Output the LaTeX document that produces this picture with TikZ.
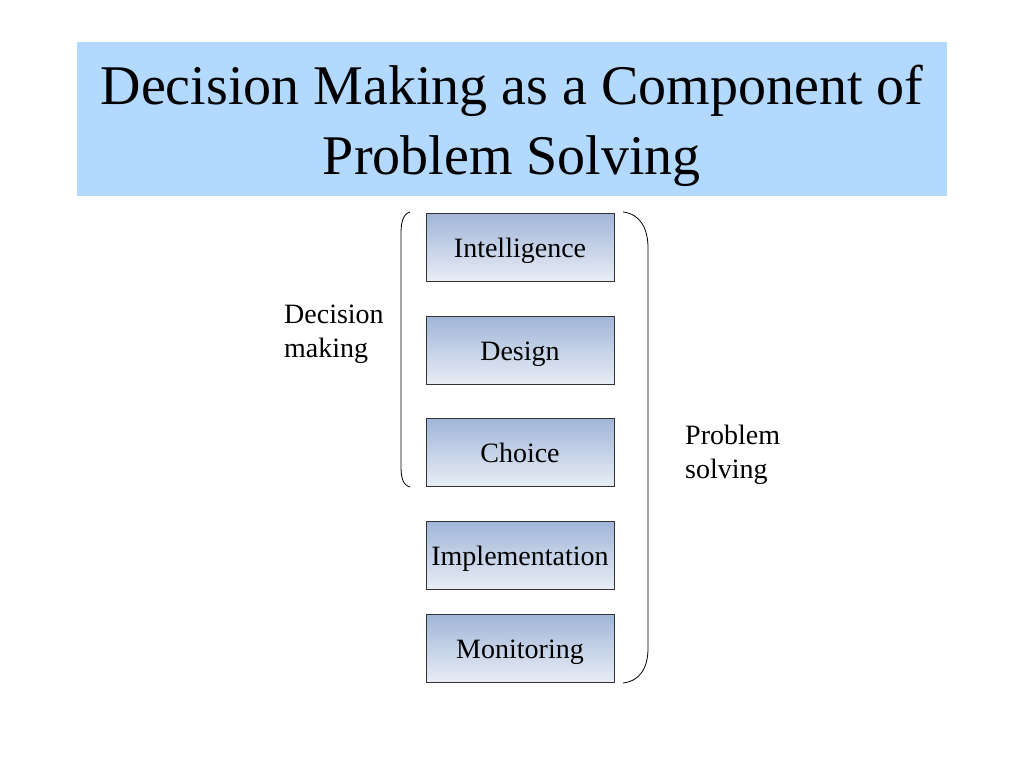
\documentclass[tikz,border=0pt]{standalone}
\usepackage{fontspec}
\setmainfont{Liberation Serif}
\usetikzlibrary{positioning}
\definecolor{TitleBlue}{RGB}{179,217,255}
\definecolor{StepTop}{RGB}{160,181,216}
\definecolor{StepBottom}{RGB}{232,237,245}
\begin{document}
\begin{tikzpicture}[x=1pt, y=-1pt,
            stepbox/.style={draw=black!80, thin, top color=StepTop, bottom color=StepBottom, minimum width=188pt, minimum height=68pt, inner sep=0pt, text height=24pt, text depth=4pt, font=\fontsize{28}{34}\selectfont},
            sidelabel/.style={align=left, anchor=north west, inner sep=0pt, font=\fontsize{28}{34}\selectfont},
            bracket/.style={line width=0.8pt, black}
        ]
            \useasboundingbox (0,0) rectangle (1024,768);
            \node[fill=TitleBlue, minimum width=870pt, minimum height=153pt, inner sep=0pt] (titlebox) at (512,119) {};
            \node[align=center, inner sep=0pt, font=\fontsize{56}{70}\selectfont] (title) at (512,126) {Decision Making as a Component of\\Problem Solving};

            \node[stepbox] (intel) at (520,247) {Intelligence};
            \node[stepbox] (design) at (520,350) {Design};
            \node[stepbox] (choice) at (520,452) {Choice};
            \node[stepbox] (impl) at (520,555) {Implementation};
            \node[stepbox] (monitor) at (520,648) {Monitoring};

            \node[sidelabel] (decision) at (284,305) {Decision\\making};
            \node[sidelabel] (problem) at (685,425) {Problem\\solving};

            \coordinate (dmtop) at (410,212);
            \coordinate (dmbot) at (410,487);
            \coordinate (pstop) at (623,212);
            \coordinate (psbot) at (623,683);

            \draw[bracket] (dmtop) .. controls (403,214) and (401,222) .. (401,234) -- (401,466) .. controls (401,478) and (403,485) .. (dmbot);
            \draw[bracket] (pstop) .. controls (640,214) and (648,228) .. (648,248) -- (648,648) .. controls (648,668) and (640,681) .. (psbot);
        \end{tikzpicture}
\end{document}
